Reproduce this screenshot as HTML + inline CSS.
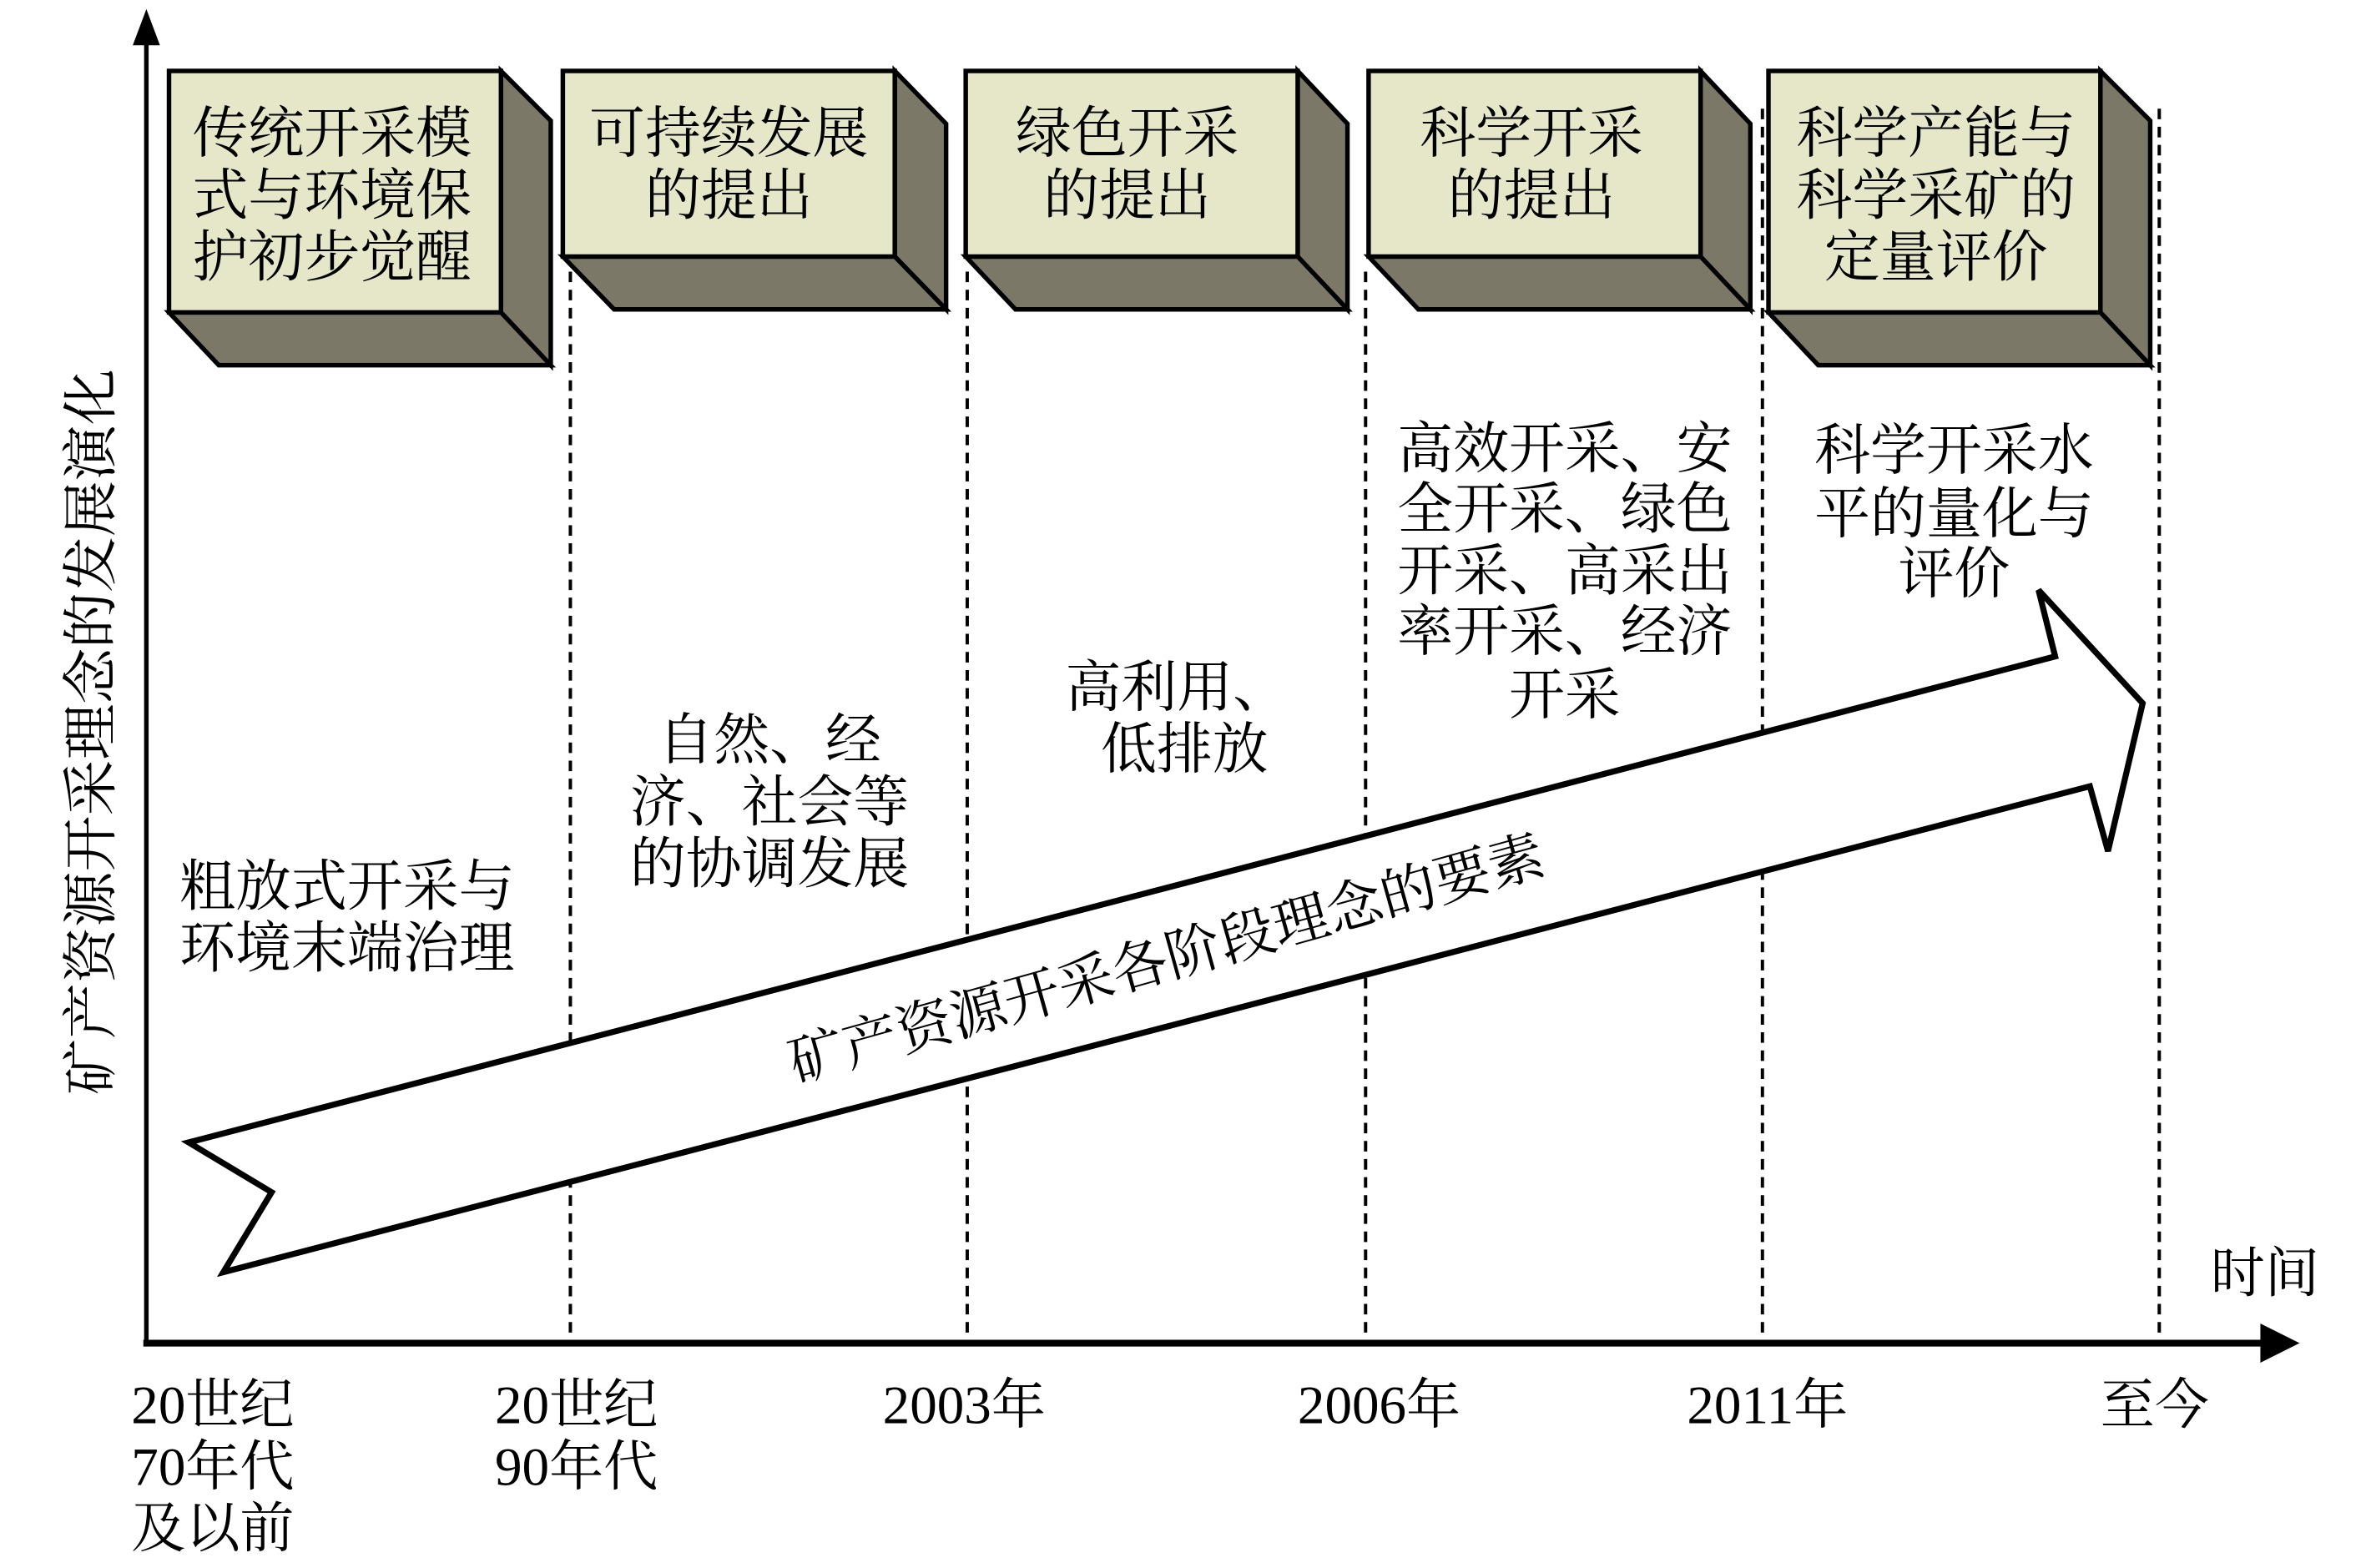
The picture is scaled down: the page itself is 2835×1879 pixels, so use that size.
<!DOCTYPE html>
<html><head><meta charset="utf-8"><style>
html,body{margin:0;padding:0;background:#fff;}
svg{display:block;}
text{font-family:"Liberation Serif","Noto Serif CJK SC",serif;fill:#000;}
</style></head><body>
<svg width="2835" height="1879" viewBox="0 0 1568 1039" preserveAspectRatio="none" xmlns="http://www.w3.org/2000/svg">
<!-- dashed lines -->
<g stroke="#000" stroke-width="2.2" stroke-dasharray="7,5">
<line x1="378" y1="180" x2="378" y2="890"/>
<line x1="641" y1="180" x2="641" y2="890"/>
<line x1="905" y1="180" x2="905" y2="890"/>
<line x1="1168" y1="72" x2="1168" y2="890"/>
<line x1="1431" y1="72" x2="1431" y2="890"/>
</g>
<!-- axes -->
<line x1="97" y1="28" x2="97" y2="892" stroke="#000" stroke-width="3"/>
<polygon points="97,6 88,30 106,30" fill="#000"/>
<line x1="95" y1="890" x2="1505" y2="890" stroke="#000" stroke-width="4.5"/>
<polygon points="1524,890 1498,877 1498,903" fill="#000"/>
<!-- boxes -->
<g stroke="#000" stroke-width="3" stroke-linejoin="miter">
<polygon points="332,47 365,80 365,242 332,207" fill="#7b7868"/>
<polygon points="112,207 332,207 365,242 145,242" fill="#7b7868"/>
<rect x="112" y="47" width="220" height="160" fill="#e6e6c9"/>
<polygon points="593,47 627,82 627,205 593,170" fill="#7b7868"/>
<polygon points="373,170 593,170 627,205 407,205" fill="#7b7868"/>
<rect x="373" y="47" width="220" height="123" fill="#e6e6c9"/>
<polygon points="860,47 893,82 893,205 860,170" fill="#7b7868"/>
<polygon points="640,170 860,170 893,205 673,205" fill="#7b7868"/>
<rect x="640" y="47" width="220" height="123" fill="#e6e6c9"/>
<polygon points="1127,47 1160,82 1160,205 1127,170" fill="#7b7868"/>
<polygon points="907,170 1127,170 1160,205 940,205" fill="#7b7868"/>
<rect x="907" y="47" width="220" height="123" fill="#e6e6c9"/>
<polygon points="1392,47 1425,80 1425,242 1392,207" fill="#7b7868"/>
<polygon points="1172,207 1392,207 1425,242 1205,242" fill="#7b7868"/>
<rect x="1172" y="47" width="220" height="160" fill="#e6e6c9"/>
</g>
<!-- big arrow -->
<polygon points="125,757 1362,435 1351,391 1420,466 1397,564 1385,521 148,843 180,790" fill="#fff" stroke="#000" stroke-width="4" stroke-linejoin="miter"/>
<g font-size="37" text-anchor="middle">
<text x="220" y="101">传统开采模</text>
<text x="220" y="142">式与环境保</text>
<text x="220" y="183">护初步觉醒</text>
<text x="483" y="101">可持续发展</text>
<text x="483" y="142">的提出</text>
<text x="747" y="101">绿色开采</text>
<text x="747" y="142">的提出</text>
<text x="1015" y="101">科学开采</text>
<text x="1015" y="142">的提出</text>
<text x="1283" y="101">科学产能与</text>
<text x="1283" y="142">科学采矿的</text>
<text x="1283" y="183">定量评价</text>
<text x="230" y="600">粗放式开采与</text>
<text x="230" y="641">环境末端治理</text>
<text x="510" y="503">自然、经</text>
<text x="510" y="544">济、社会等</text>
<text x="510" y="585">的协调发展</text>
<text x="780" y="468">高利用、</text>
<text x="785" y="509">低排放</text>
<text x="1037" y="310">高效开采、安</text>
<text x="1037" y="350">全开采、绿色</text>
<text x="1037" y="391">开采、高采出</text>
<text x="1037" y="431">率开采、经济</text>
<text x="1037" y="473">开采</text>
<text x="1295" y="311">科学开采水</text>
<text x="1295" y="353">平的量化与</text>
<text x="1295" y="393">评价</text>
<text x="773" y="648" transform="rotate(-15.6 773 635)">矿产资源开采各阶段理念的要素</text>
<text x="60" y="498" transform="rotate(-90 60 485)">矿产资源开采理念的发展演化</text>
</g>
<g font-size="36">
<text x="1465" y="856">时间</text>
<text x="87" y="943">20世纪</text>
<text x="87" y="984">70年代</text>
<text x="87" y="1025">及以前</text>
<text x="328" y="943">20世纪</text>
<text x="328" y="984">90年代</text>
<text x="585" y="943">2003年</text>
<text x="860" y="943">2006年</text>
<text x="1118" y="943">2011年</text>
<text x="1392" y="943">至今</text>
</g>
</svg>
</body></html>
